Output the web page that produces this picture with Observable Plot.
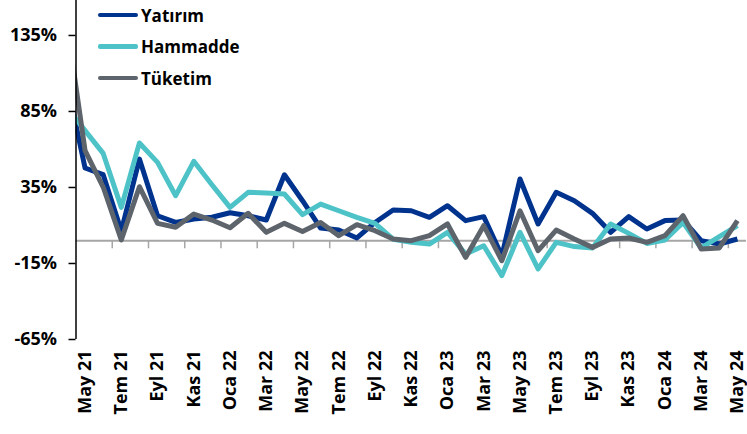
<!DOCTYPE html>
<html>
<head>
<meta charset="utf-8">
<script src="https://cdn.jsdelivr.net/npm/d3@7"></script>
<script src="https://cdn.jsdelivr.net/npm/@observablehq/plot@0.6"></script>
<style>
  html, body { margin: 0; padding: 0; background: #fff; }
  #wrap { position: relative; width: 747px; height: 434px; font-family: "Open Sans", sans-serif; }
  #legend { position: absolute; left: 98px; top: 0; }
  .item { position: absolute; left: 0; display: flex; align-items: center; white-space: nowrap;
          font-size: 17px; font-weight: 700; color: #000; }
  .swatch { width: 40px; height: 4.5px; border-radius: 2px; margin-right: 3px; }
</style>
</head>
<body>
<div id="wrap"><div id="legend"></div></div>
<script>
// Months (first entry Nis 21 is only partly visible, clipped by the axis)
const months = ["Nis 21","May 21","Haz 21","Tem 21","Ağu 21","Eyl 21","Eki 21","Kas 21","Ara 21",
  "Oca 22","Şub 22","Mar 22","Nis 22","May 22","Haz 22","Tem 22","Ağu 22","Eyl 22","Eki 22","Kas 22","Ara 22",
  "Oca 23","Şub 23","Mar 23","Nis 23","May 23","Haz 23","Tem 23","Ağu 23","Eyl 23","Eki 23","Kas 23","Ara 23",
  "Oca 24","Şub 24","Mar 24","Nis 24","May 24"];
const yatirim = [104, 47.8, 43.4, 6.5, 53.7, 16.4, 12, 14.3, 15.4, 18.4, 16.4, 13.6, 43.4, 26.3, 8.3, 7, 1.8, 12,
  20.2, 19.7, 15.4, 23, 13.2, 15.8, -9.9, 40.6, 11, 31.8, 26.3, 18, 5.5, 15.8, 7.7, 13.2, 13.6, 0, -2.2, 1.1];
const hammadde = [87.6, 72.4, 57.4, 21.9, 64.3, 51.5, 29.6, 52.2, 36.8, 21.9, 31.8, 31.4, 30.7, 17.1, 24.1, 19.7,
  15.4, 11.4, 1, -1.1, -2.2, 5.5, -8.8, -3.3, -23, 5.5, -18.6, -1.1, -3.9, -4.8, 11, 4.8, -1.8, 0.4, 12, -4.8, 2.6, 9.9];
const tuketim = [143, 59.2, 35.3, 0.5, 35.5, 11.4, 8.8, 17.5, 13.6, 8.5, 18, 5.5, 11.4, 6.1, 12, 3.3, 10.5, 6.6,
  1.1, 0, 3.3, 11, -11, 9.9, -13.2, 19.7, -6.6, 7, 1.1, -4.4, 1.1, 1.8, -1.1, 3.3, 16.4, -5.5, -4.8, 13.2];
const seriesNames = ["Yatırım", "Hammadde", "Tüketim"];
const seriesColors = ["#00338D", "#4DC3C8", "#5E646B"];
const yTicks = [-65, -15, 35, 85, 135];

const seriesValues = [yatirim, hammadde, tuketim];
const data = seriesNames.flatMap((name, s) => seriesValues[s].map((v, i) => ({name, i, v})));
const labelIdx = months.map((m, i) => i).filter(i => i % 2 === 1);         // May 21, Tem 21, ...
const boundaryIdx = labelIdx.slice(1).map(i => i - 0.5);                     // tick marks between months

const chart = Plot.plot({
  width: 747,
  height: 434,
  marginLeft: 75.5,
  marginRight: 1,
  marginTop: 0,
  marginBottom: 95,
  style: {fontFamily: "Open Sans, sans-serif", background: "transparent"},
  x: {type: "linear", domain: [0.5, months.length - 0.5]},
  y: {domain: [-65, 158]},
  color: {domain: seriesNames, range: seriesColors},
  marks: [
    Plot.ruleY([0], {stroke: "#a6a6a6", strokeWidth: 2}),
    Plot.ruleX(boundaryIdx, {x: d => d, y1: 0, y2: -5.3, stroke: "#a6a6a6", strokeWidth: 1.5}),
    Plot.line(data, {x: "i", y: "v", z: "name", stroke: "name", strokeWidth: 5,
      strokeLinejoin: "round", strokeLinecap: "butt", clip: true}),
    Plot.ruleX([0.5], {y1: -65, y2: 158, stroke: "#000", strokeWidth: 1.5}),
    Plot.axisY({ticks: yTicks, tickFormat: d => d + "%", tickSize: 7, tickPadding: 12,
      fontSize: 18, fontWeight: 700, color: "#000", strokeWidth: 1.5, label: null}),
    Plot.axisX({ticks: labelIdx, tickFormat: i => months[i], tickRotate: -90, tickSize: 0,
      tickPadding: 11, fontSize: 18, fontWeight: 700, color: "#000", label: null})
  ]
});
document.getElementById("wrap").prepend(chart);

const legend = document.getElementById("legend");
const tops = [15, 46.5, 78];
seriesNames.forEach((n, k) => {
  const it = document.createElement("div");
  it.className = "item";
  it.style.top = (tops[k] - 12) + "px";
  it.style.height = "24px";
  it.innerHTML = `<span class="swatch" style="background:${seriesColors[k]}"></span><span>${n}</span>`;
  legend.appendChild(it);
});
</script>
</body>
</html>
